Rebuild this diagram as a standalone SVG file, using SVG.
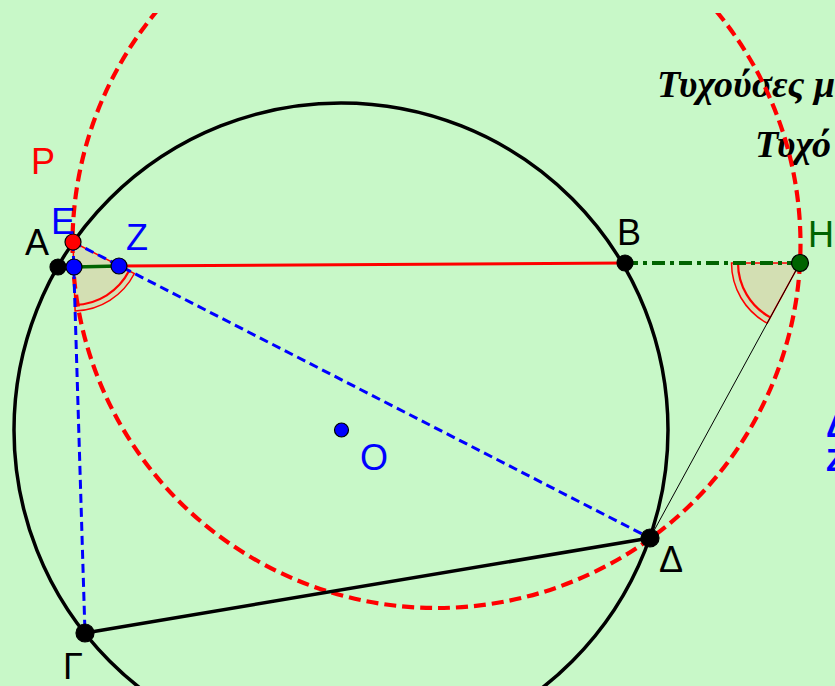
<svg xmlns="http://www.w3.org/2000/svg" width="835" height="686" viewBox="0 0 835 686">
<defs>
<clipPath id="topclip"><rect x="0" y="13" width="835" height="673"/></clipPath>
<style>
.lbl{font-family:"Liberation Sans","DejaVu Sans",Arial,sans-serif;font-size:36px}
.ttl{font-family:"Liberation Serif","DejaVu Serif",serif;font-style:italic;font-weight:bold;font-size:38px;fill:#000}
.pt{stroke:#000;stroke-width:1.2}
.sector{fill:#d3dfb3;stroke:#ff0000;stroke-width:1.5}
.arc{fill:none;stroke:#ff0000;stroke-width:2.2}
.bdash{fill:none;stroke:#0000ff;stroke-width:3;stroke-dasharray:9 5}
</style>
</defs>
<rect x="0" y="0" width="835" height="686" fill="#c8f8c8"/>

<g id="title">
<text class="ttl" x="657" y="97">Τυχούσες μ</text>
<text class="ttl" x="755" y="157">Τυχό</text>
</g>
<g id="rightlabels">
<text class="lbl" x="826" y="437" fill="#0000ff" font-weight="bold" style="font-size:32px">Δ</text>
<text class="lbl" x="826" y="471" fill="#0000ff" font-weight="bold" style="font-size:32px">Ζ</text>
</g>

<g id="angles">
<path class="sector" d="M73,242 L134.4,273.5 A69,69 0 0 1 75.1,311 Z"/>
<path class="arc" d="M129.1,270.8 A63,63 0 0 1 74.9,305"/>
<path class="sector" d="M800,263 L767.2,323.2 A68.5,68.5 0 0 1 731.5,263 Z"/>
<path class="arc" d="M770.3,317.4 A62,62 0 0 1 738,263"/>
</g>

<g id="circles">
<circle cx="341" cy="430" r="327" fill="none" stroke="#000" stroke-width="3.5"/>
<circle cx="436.5" cy="244" r="364" fill="none" stroke="#ff0000" stroke-width="4.2" stroke-dasharray="12 6" clip-path="url(#topclip)"/>
</g>

<g id="connectors">
<line x1="119" y1="266" x2="625" y2="263" stroke="#ff0000" stroke-width="3"/>
<line x1="74" y1="267" x2="119" y2="266" stroke="#006400" stroke-width="3.5"/>
<line x1="625" y1="263" x2="800" y2="263" stroke="#006400" stroke-width="4" stroke-dasharray="13 5 4 5"/>
<line x1="800" y1="263" x2="650" y2="538" stroke="#000" stroke-width="1"/>
<line x1="85" y1="633" x2="650" y2="538" stroke="#000" stroke-width="3.5"/>
<line class="bdash" x1="73" y1="242" x2="650" y2="538"/>
<line class="bdash" x1="73" y1="242" x2="85" y2="633"/>
</g>

<g id="node-A"><circle class="pt" cx="58" cy="267" r="8" fill="#000"/><text class="lbl" x="25" y="255" fill="#000">A</text></g>
<g id="node-E"><circle class="pt" cx="73" cy="242" r="8" fill="#ff0000"/><text class="lbl" x="51" y="234" fill="#0000ff">E</text></g>
<g id="node-I"><circle class="pt" cx="74" cy="267" r="8" fill="#0000ff"/></g>
<g id="node-Z"><circle class="pt" cx="119" cy="266" r="8" fill="#0000ff"/><text class="lbl" x="126" y="250" fill="#0000ff">Z</text></g>
<g id="node-B"><circle class="pt" cx="625" cy="263" r="8" fill="#000"/><text class="lbl" x="617" y="245" fill="#000">B</text></g>
<g id="node-H"><circle class="pt" cx="800" cy="263" r="8.5" fill="#006400"/><text class="lbl" x="808" y="247" fill="#006400">H</text></g>
<g id="node-O"><circle class="pt" cx="341.5" cy="430" r="7" fill="#0000ff"/><text class="lbl" x="360" y="470" fill="#0000ff">O</text></g>
<g id="node-D"><circle class="pt" cx="650" cy="538" r="9" fill="#000"/><text class="lbl" x="659" y="572" fill="#000">Δ</text></g>
<g id="node-G"><circle class="pt" cx="85" cy="633" r="9" fill="#000"/><text class="lbl" x="63" y="679" fill="#000">Γ</text></g>
<g id="label-P"><text class="lbl" x="31" y="174" fill="#ff0000">P</text></g>
</svg>
